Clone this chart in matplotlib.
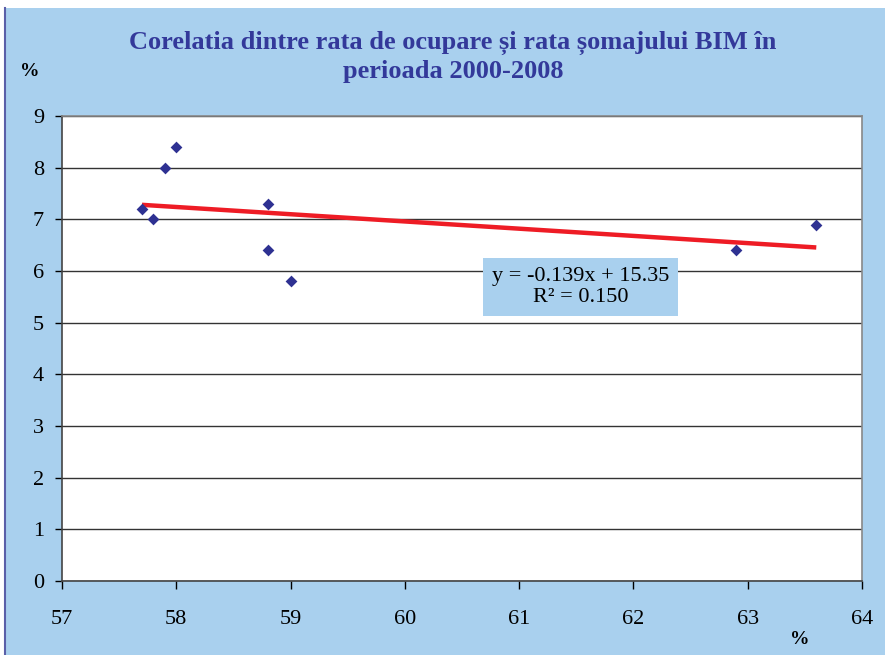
import numpy as np
import matplotlib
matplotlib.use('Agg')
import matplotlib.pyplot as plt
from matplotlib.patches import Rectangle

# Rata de ocupare (x) si rata somajului BIM (y), 2000-2008
ocupare = [57.7, 57.8, 57.9, 58.0, 58.8, 58.8, 59.0, 62.9, 63.6]
somaj = [7.2, 7.0, 8.0, 8.4, 7.3, 6.4, 5.8, 6.4, 6.9]
x_ticks = [57, 58, 59, 60, 61, 62, 63, 64]
y_ticks = [0, 1, 2, 3, 4, 5, 6, 7, 8, 9]
title = 'Corelatia dintre rata de ocupare și rata șomajului BIM în\nperioada 2000-2008'
eq_text = 'y = -0.139x + 15.35\nR² = 0.150'

bg = '#A9D0EE'
navy = '#2E3192'
serif = ['Liberation Serif', 'DejaVu Serif']

fig = plt.figure(figsize=(8.85, 6.55), dpi=100)
fig.patch.set_facecolor(bg)
# white strip at top and dark edge at left, like the pasted chart frame
fig.add_artist(Rectangle((0, 1 - 8 / 655), 1, 8 / 655, transform=fig.transFigure,
                         facecolor='white', edgecolor='none'))
fig.add_artist(Rectangle((0, 0), 5 / 885, 1, transform=fig.transFigure,
                         facecolor='white', edgecolor='none'))
fig.add_artist(plt.Line2D([5 / 885, 5 / 885], [0, 1 - 8 / 655], transform=fig.transFigure,
                          color='#5A5FA8', lw=1.5))

ax = fig.add_axes([62 / 885, 1 - 581 / 655, 800 / 885, 465 / 655])
ax.set_facecolor('white')

# trendline
coef = np.polyfit(ocupare, somaj, 1)
xl = np.array([min(ocupare), max(ocupare)])
ax.plot(xl, np.polyval(coef, xl), color='#EE1C25', lw=3.2, zorder=3, solid_capstyle='butt')

ax.scatter(ocupare, somaj, marker='D', s=36, color=navy, zorder=4, linewidths=0)

ax.set_xlim(57, 64)
ax.set_ylim(0, 9)
ax.set_xticks(x_ticks)
ax.set_yticks(y_ticks)
ax.yaxis.grid(True, color='#333333', lw=1)
ax.set_axisbelow(True)

for lab in ax.get_xticklabels() + ax.get_yticklabels():
    lab.set_fontfamily(serif)
    lab.set_fontsize(16)
ax.tick_params(axis='x', direction='out', length=6, pad=15, width=1)
ax.tick_params(axis='y', direction='out', length=5, pad=8, width=1)

for side in ['left', 'bottom']:
    ax.spines[side].set_color('#444444')
    ax.spines[side].set_linewidth(1.2)
for side in ['top', 'right']:
    ax.spines[side].set_color('#888888')
    ax.spines[side].set_linewidth(1.2)

ax.text(61.54, 5.69, eq_text, ha='center', va='center', fontsize=16,
        family=serif, linespacing=1.15, zorder=5,
        bbox=dict(boxstyle='square,pad=0.4', facecolor=bg, edgecolor='none'))

fig.text(0.512, 1 - 57 / 655, title, ha='center', va='center', fontsize=19,
         fontweight='bold', family=serif, color='#33399A', linespacing=1.25)
fig.text(30 / 885, 1 - 72 / 655, '%', ha='center', va='center', fontsize=14,
         family=serif, fontweight='bold')
fig.text(800 / 885, 1 - 640 / 655, '%', ha='center', va='center', fontsize=14,
         family=serif, fontweight='bold')

fig.savefig('out.png', dpi=100, facecolor=fig.get_facecolor())
